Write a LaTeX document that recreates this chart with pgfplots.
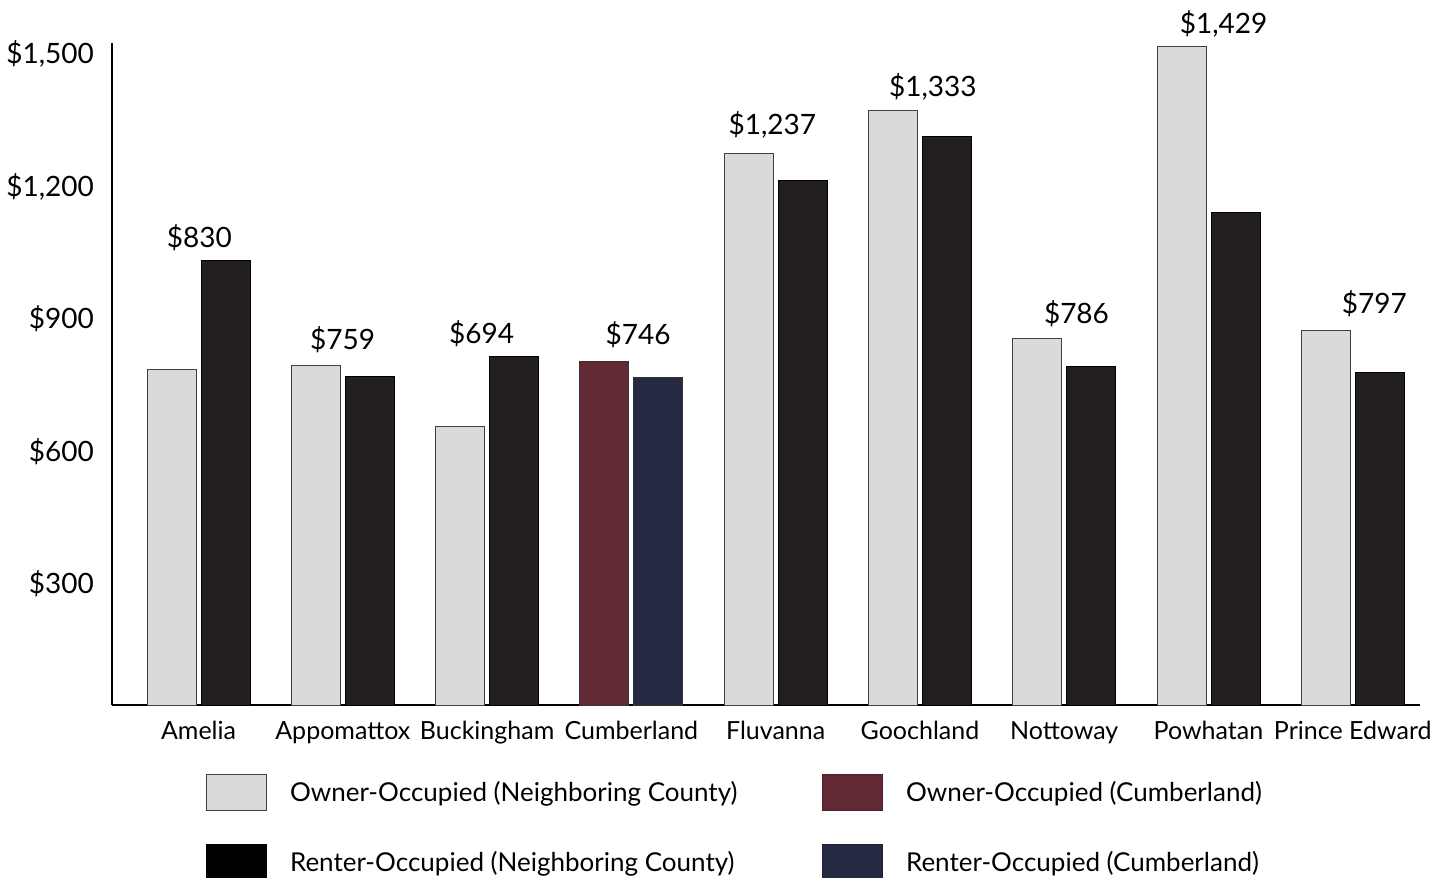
\documentclass[border=0pt]{standalone}
\usepackage{pgfplots}
\pgfplotsset{compat=1.18}
\usepackage{fontspec}
\setmainfont{Lato}
\definecolor{ownergray}{HTML}{DADADA}
\definecolor{renterdark}{HTML}{231F20}
\definecolor{cumbowner}{HTML}{622833}
\definecolor{cumbrenter}{HTML}{252942}
\newcommand{\lbl}{\fontsize{14pt}{16pt}\selectfont}
\newcommand{\catf}{\fontsize{12.5pt}{15pt}\selectfont}
\newcommand{\legf}{\fontsize{13pt}{15pt}\selectfont}

\begin{document}
\begin{tikzpicture}
\begin{axis}[
  scale only axis,
  width=654pt, height=331.15pt,
  xmin=-0.600, xmax=8.466,
  ymin=0, ymax=1500,
  axis lines=left,
  axis line style={-, line width=1.1pt, black},
  xtick={0,1,2,3,4,5,6,7,8},
  xticklabels={Amelia,Appomattox,Buckingham,Cumberland,Fluvanna,Goochland,Nottoway,Powhatan,Prince Edward},
  ytick={274,574,874,1174,1474},
  yticklabels={\$300,\$600,\$900,{\$1,200},{\$1,500}},
  major tick length=0pt,
  tick style={draw=none},
  x tick label style={font=\catf, yshift=-4.6pt},
  y tick label style={font=\lbl, xshift=-5.5pt},
  clip=false,
  legend columns=2,
  legend cell align=left,
  legend image code/.code={\draw[#1] (0pt,-9pt) rectangle (30pt,9pt);},
  legend style={draw=none, fill=none, font=\legf, inner sep=0pt, outer sep=0pt,
    at={(rel axis cs:0.0719,0)}, anchor=north west, yshift=-34.5pt,
    nodes={inner sep=0pt, outer sep=0pt},
    row sep=16.5pt,
    /tikz/every odd column/.append style={column sep=11.5pt}},
]
\addplot[ybar, bar width=24.5pt, bar shift=-13.5pt, fill=ownergray, draw=black!75, line width=0.5pt, forget plot]
  coordinates {(0,760) (1,770) (2,630) (4,1250) (5,1346) (6,829) (7,1491) (8,848)};
\addplot[ybar, bar width=24.5pt, bar shift=13.5pt, fill=renterdark, draw=black, line width=0.5pt, forget plot]
  coordinates {(0,1006) (1,744) (2,789) (4,1188) (5,1287) (6,766) (7,1116) (8,753)};
\addplot[ybar, bar width=24.5pt, bar shift=-13.5pt, fill=cumbowner, draw=black!80, line width=0.5pt, forget plot]
  coordinates {(3,778)};
\addplot[ybar, bar width=24.5pt, bar shift=13.5pt, fill=cumbrenter, draw=black!80, line width=0.5pt, forget plot]
  coordinates {(3,741)};

\addlegendimage{fill=ownergray, draw=black!75, line width=0.5pt}
\addlegendentry{\makebox[266pt][l]{Owner-Occupied (Neighboring County)}}
\addlegendimage{fill=cumbowner, draw=cumbowner!80!black, line width=0.5pt}
\addlegendentry{Owner-Occupied (Cumberland)}
\addlegendimage{fill=black, draw=black, line width=0.5pt}
\addlegendentry{\makebox[266pt][l]{Renter-Occupied (Neighboring County)}}
\addlegendimage{fill=cumbrenter, draw=cumbrenter!80!black, line width=0.5pt}
\addlegendentry{Renter-Occupied (Cumberland)}

\node[font=\lbl] at (axis cs:0.006,1059) {\$830};
\node[font=\lbl] at (axis cs:0.999,827) {\$759};
\node[font=\lbl] at (axis cs:1.962,842) {\$694};
\node[font=\lbl] at (axis cs:3.046,838) {\$746};
\node[font=\lbl] at (axis cs:3.977,1314) {\$1,237};
\node[font=\lbl] at (axis cs:5.090,1400) {\$1,333};
\node[font=\lbl] at (axis cs:6.085,887) {\$786};
\node[font=\lbl] at (axis cs:7.105,1542) {\$1,429};
\node[font=\lbl] at (axis cs:8.150,908) {\$797};
\end{axis}
\pgfresetboundingbox
\path ([shift={(-56pt,-86pt)}]current axis.south west) rectangle ([shift={(14pt,21.35pt)}]current axis.north east);
\end{tikzpicture}
\end{document}
